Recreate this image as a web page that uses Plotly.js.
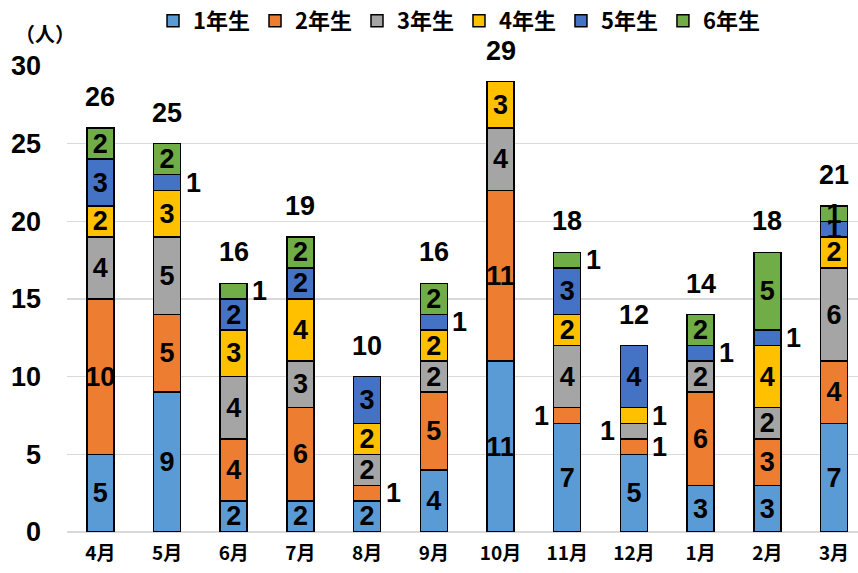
<!DOCTYPE html>
<html><head><meta charset="utf-8">
<script src="https://cdn.plot.ly/plotly-3.0.1.min.js"></script>
<style>body{margin:0;background:#fff}#c{width:858px;height:573px}</style>
</head><body><div id="c"></div>
<script>
const months = ["4月","5月","6月","7月","8月","9月","10月","11月","12月","1月","2月","3月"];
const seriesNames = ["1年生","2年生","3年生","4年生","5年生","6年生"];
const g1 = [5,9,2,2,2,4,11,7,5,3,3,7];
const g2 = [10,5,4,6,1,5,11,1,1,6,3,4];
const g3 = [4,5,4,3,2,2,4,4,1,2,2,6];
const g4 = [2,3,3,4,2,2,3,2,1,0,4,2];
const g5 = [3,1,2,2,3,1,0,3,4,1,1,1];
const g6 = [2,2,1,2,0,2,0,1,0,2,5,1];
const colors = ["#5B9BD5","#ED7D31","#A5A5A5","#FFC000","#4472C4","#70AD47"];
// labels of value 1 drawn beside the bar: [monthIndex, seriesIndex, side]
const sideLabels = [[1,4,"r"],[2,5,"r"],[4,1,"r"],[5,4,"r"],[7,1,"l"],[7,5,"r"],[8,1,"r"],[8,2,"l"],[8,3,"r"],[9,4,"r"],[10,4,"r"]];

const series = [g1,g2,g3,g4,g5,g6];
const numFont = "Liberation Sans Narrow, Arial Narrow, Liberation Sans, sans-serif";
const isSide = (m,s) => sideLabels.some(d => d[0]===m && d[1]===s);

const traces = series.map((vals,s) => ({
  type:"bar", name:seriesNames[s], x:months, y:vals,
  marker:{color:colors[s], line:{color:"#000", width:1.5}},
  text: vals.map((v,m) => (v>0 && !isSide(m,s)) ? String(v) : ""),
  textposition:"inside", insidetextanchor:"middle", textangle:0,
  constraintext:"none",
  textfont:{family:numFont, size:27, color:"#000", weight:"bold"},
  hoverinfo:"skip"
}));

const annotations = [];
// totals
months.forEach((m,i) => {
  const tot = series.reduce((a,arr)=>a+arr[i],0);
  annotations.push({x:m, y:tot, text:String(tot), showarrow:false, yanchor:"bottom", yshift:14,
    font:{family:numFont, size:27, color:"#000", weight:"bold"}});
});
// side labels
sideLabels.forEach(([m,s,side]) => {
  let base = 0; for (let k=0;k<s;k++) base += series[k][m];
  const v = series[s][m];
  annotations.push({x:months[m], y:base+v/2, text:String(v), showarrow:false,
    xshift: side==="r" ? 26 : -26,
    font:{family:numFont, size:27, color:"#000", weight:"bold"}});
});
annotations.push({xref:"paper", yref:"paper", x:-0.028, y:1.035, xanchor:"center", yanchor:"bottom",
  text:"（人）", showarrow:false, font:{family:"Noto Sans CJK JP", size:20, color:"#000", weight:"bold"}});

const layout = {
  width:858, height:573, margin:{l:67, r:0, t:66, b:41},
  paper_bgcolor:"#fff", plot_bgcolor:"#fff",
  barmode:"stack", bargap:0.595,
  showlegend:true,
  legend:{orientation:"h", x:0.535, xanchor:"center", xref:"container", yref:"container", y:1.0, yanchor:"top",
    font:{family:"Noto Sans CJK JP", size:22, color:"#000", weight:"bold"}, itemwidth:30, traceorder:"normal"},
  xaxis:{range:[-0.5,11.36], showgrid:false, showline:false, zeroline:false, ticks:"", ticklabelstandoff:8,
    tickfont:{family:"Noto Sans CJK JP", size:19, color:"#000", weight:"bold"}},
  yaxis:{range:[0,30], dtick:5, showgrid:true, gridcolor:"#D9D9D9", gridwidth:1.5, zeroline:true, zerolinecolor:"#D9D9D9", zerolinewidth:1.5,
    ticks:"", ticklabelstandoff:25,
    tickfont:{family:numFont, size:27, color:"#000", weight:"bold"}},
  annotations:annotations
};
Plotly.newPlot("c", traces, layout, {displayModeBar:false, staticPlot:true});
</script></body></html>
